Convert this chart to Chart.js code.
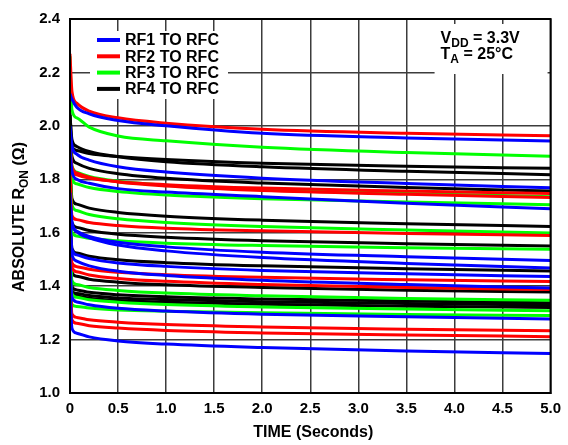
<!DOCTYPE html>
<html lang="en">
<head>
<meta charset="UTF-8">
<title>Absolute RON vs Time</title>
<script src="https://cdn.jsdelivr.net/npm/chart.js@4"></script>
<style>
  html, body { margin: 0; padding: 0; background: #fff; }
  canvas { display: block; }
</style>
</head>
<body>
<canvas id="myChart" width="568" height="445"></canvas>
<script>
// sample times (seconds) shared by every trace
const time = [0, 0.02, 0.07, 0.2, 0.5, 1, 2, 3.5, 5];

const seriesNames = ['RF1 TO RFC', 'RF2 TO RFC', 'RF3 TO RFC', 'RF4 TO RFC'];

// absolute RON (ohms), one row per trace
const rf1 = [
    [2.12, 2.10, 2.07, 2.045, 2.02, 2.0, 1.972, 1.955, 1.943],
    [2.0, 1.926, 1.894, 1.872, 1.847, 1.827, 1.804, 1.784, 1.768],
    [1.92, 1.83, 1.80, 1.785, 1.765, 1.752, 1.735, 1.71, 1.690],
    [1.75, 1.633, 1.605, 1.586, 1.564, 1.547, 1.527, 1.510, 1.496],
    [1.72, 1.640, 1.605, 1.581, 1.554, 1.532, 1.507, 1.485, 1.468],
    [1.66, 1.538, 1.517, 1.503, 1.487, 1.474, 1.459, 1.446, 1.436],
    [1.62, 1.519, 1.494, 1.476, 1.456, 1.440, 1.422, 1.406, 1.393],
    [1.50, 1.358, 1.341, 1.330, 1.317, 1.307, 1.295, 1.285, 1.277],
    [1.40, 1.243, 1.224, 1.210, 1.195, 1.183, 1.170, 1.157, 1.148]
];
const rf2 = [
    [2.27, 2.13, 2.085, 2.055, 2.03, 2.01, 1.987, 1.972, 1.963],
    [1.90, 1.835, 1.817, 1.805, 1.791, 1.780, 1.767, 1.756, 1.747],
    [1.95, 1.848, 1.824, 1.808, 1.790, 1.775, 1.758, 1.744, 1.732],
    [1.84, 1.664, 1.649, 1.638, 1.627, 1.617, 1.607, 1.597, 1.590],
    [1.66, 1.487, 1.473, 1.463, 1.452, 1.443, 1.433, 1.424, 1.417],
    [1.62, 1.471, 1.454, 1.442, 1.429, 1.418, 1.406, 1.395, 1.387],
    [1.46, 1.296, 1.283, 1.274, 1.265, 1.256, 1.247, 1.239, 1.233],
    [1.42, 1.274, 1.261, 1.252, 1.243, 1.234, 1.225, 1.217, 1.211]
];
const rf3 = [
    [2.26, 2.06, 2.03, 1.995, 1.962, 1.944, 1.92, 1.90, 1.886],
    [1.96, 1.851, 1.827, 1.811, 1.793, 1.778, 1.761, 1.747, 1.735],
    [1.93, 1.803, 1.783, 1.769, 1.754, 1.741, 1.727, 1.715, 1.705],
    [1.86, 1.704, 1.683, 1.668, 1.652, 1.638, 1.623, 1.610, 1.599],
    [1.78, 1.601, 1.588, 1.579, 1.570, 1.561, 1.552, 1.544, 1.538],
    [1.60, 1.421, 1.406, 1.395, 1.384, 1.374, 1.364, 1.354, 1.347],
    [1.56, 1.371, 1.358, 1.349, 1.340, 1.331, 1.322, 1.314, 1.308],
    [1.52, 1.332, 1.324, 1.318, 1.311, 1.306, 1.300, 1.294, 1.290]
];
const rf4 = [
    [2.05, 1.925, 1.908, 1.896, 1.885, 1.874, 1.860, 1.849, 1.841],
    [2.04, 1.950, 1.923, 1.904, 1.884, 1.866, 1.847, 1.830, 1.817],
    [1.98, 1.886, 1.860, 1.841, 1.821, 1.804, 1.786, 1.769, 1.756],
    [1.88, 1.728, 1.707, 1.692, 1.676, 1.662, 1.647, 1.634, 1.623],
    [1.80, 1.638, 1.620, 1.608, 1.594, 1.583, 1.570, 1.559, 1.550],
    [1.70, 1.541, 1.524, 1.512, 1.499, 1.488, 1.476, 1.465, 1.457],
    [1.62, 1.452, 1.437, 1.426, 1.415, 1.405, 1.395, 1.385, 1.378],
    [1.58, 1.398, 1.386, 1.377, 1.368, 1.360, 1.352, 1.344, 1.338],
    [1.57, 1.383, 1.372, 1.365, 1.356, 1.350, 1.342, 1.335, 1.330],
    [1.55, 1.373, 1.362, 1.355, 1.346, 1.340, 1.332, 1.325, 1.320]
];

const seriesColors = ['#0000ff', '#ff0000', '#00ff00', '#000000'];
const FONT = '"Liberation Sans", Arial, Helvetica, sans-serif';

const groups = [rf1, rf2, rf3, rf4];
const datasets = [];
groups.forEach((rows, g) => {
    rows.forEach((vals, k) => {
        datasets.push({
            label: seriesNames[g] + ' #' + (k + 1),
            data: time.map((t, i) => ({ x: t, y: vals[i] })),
            borderColor: seriesColors[g],
            borderWidth: 3,
            pointRadius: 0,
            fill: false,
            cubicInterpolationMode: 'monotone'
        });
    });
});

// draws the frame, the in-plot legend, the conditions box and axis titles
const decorations = {
    id: 'decorations',
    afterDraw(chart) {
        const ctx = chart.ctx;
        const a = chart.chartArea;
        ctx.save();

        // legend box
        const lx = a.left + 20, ly = a.top + 12;
        ctx.fillStyle = '#fff';
        ctx.fillRect(lx, ly, 138, 68);
        ctx.font = 'bold 16px ' + FONT;
        ctx.textBaseline = 'middle';
        ctx.textAlign = 'left';
        seriesNames.forEach((name, i) => {
            const y = ly + 9 + i * 16.3;
            ctx.strokeStyle = seriesColors[i];
            ctx.lineWidth = 4;
            ctx.beginPath();
            ctx.moveTo(lx + 7, y);
            ctx.lineTo(lx + 30, y);
            ctx.stroke();
            ctx.fillStyle = '#000';
            ctx.fillText(name, lx + 35, y + 1);
        });

        // conditions box
        ctx.fillStyle = '#fff';
        ctx.fillRect(a.right - 116, a.top + 5, 113, 50);
        ctx.fillStyle = '#000';
        ctx.textBaseline = 'alphabetic';
        const drawSub = (x, y, main, sub, rest) => {
            ctx.font = 'bold 16px ' + FONT;
            ctx.fillText(main, x, y);
            x += ctx.measureText(main).width;
            ctx.font = 'bold 12px ' + FONT;
            ctx.fillText(sub, x, y + 4);
            x += ctx.measureText(sub).width;
            ctx.font = 'bold 16px ' + FONT;
            ctx.fillText(rest, x, y);
        };
        drawSub(a.right - 110, a.top + 24, 'V', 'DD', ' = 3.3V');
        drawSub(a.right - 110, a.top + 40, 'T', 'A', ' = 25°C');

        // frame
        ctx.strokeStyle = '#000';
        ctx.lineWidth = 2;
        ctx.strokeRect(a.left, a.top, a.right - a.left, a.bottom - a.top);

        // x title
        ctx.font = 'bold 16px ' + FONT;
        ctx.textAlign = 'center';
        ctx.textBaseline = 'middle';
        ctx.fillText('TIME (Seconds)', (a.left + a.right) / 2 + 3, 433);

        // y title with subscript
        ctx.translate(18, (a.top + a.bottom) / 2 + 11);
        ctx.rotate(-Math.PI / 2);
        const p1 = 'ABSOLUTE R', p2 = 'ON', p3 = ' (Ω)';
        ctx.font = 'bold 16px ' + FONT;
        const w1 = ctx.measureText(p1).width, w3 = ctx.measureText(p3).width;
        ctx.font = 'bold 12px ' + FONT;
        const w2 = ctx.measureText(p2).width;
        let x = -(w1 + w2 + w3) / 2;
        ctx.textAlign = 'left';
        ctx.textBaseline = 'alphabetic';
        ctx.font = 'bold 16px ' + FONT;
        ctx.fillText(p1, x, 6);
        x += w1;
        ctx.font = 'bold 12px ' + FONT;
        ctx.fillText(p2, x, 10);
        x += w2;
        ctx.font = 'bold 16px ' + FONT;
        ctx.fillText(p3, x, 6);

        ctx.restore();
    }
};

const ctx = document.getElementById('myChart').getContext('2d');
new Chart(ctx, {
    type: 'line',
    data: { datasets: datasets },
    options: {
        responsive: false,
        devicePixelRatio: 1,
        animation: false,
        layout: { padding: { top: 8, right: 17, left: 0, bottom: 0 } },
        plugins: {
            legend: { display: false },
            tooltip: { enabled: false }
        },
        scales: {
            x: {
                type: 'linear',
                min: 0,
                max: 5,
                afterFit: s => { s.height = 52; },
                ticks: {
                    stepSize: 0.5,
                    padding: 7,
                    color: '#000',
                    font: { family: FONT, size: 15, weight: 'bold' },
                    callback: v => v === 0 ? '0' : v.toFixed(1)
                },
                grid: { color: '#3c3c3c', lineWidth: 1.5, drawTicks: false },
                border: { color: '#000', width: 2 }
            },
            y: {
                min: 1.0,
                max: 2.4,
                afterFit: s => { s.width = 70; },
                ticks: {
                    stepSize: 0.2,
                    padding: 10,
                    color: '#000',
                    font: { family: FONT, size: 15, weight: 'bold' },
                    callback: v => v.toFixed(1)
                },
                grid: { color: '#3c3c3c', lineWidth: 1.5, drawTicks: false },
                border: { color: '#000', width: 2 }
            }
        }
    },
    plugins: [decorations]
});
</script>
</body>
</html>
